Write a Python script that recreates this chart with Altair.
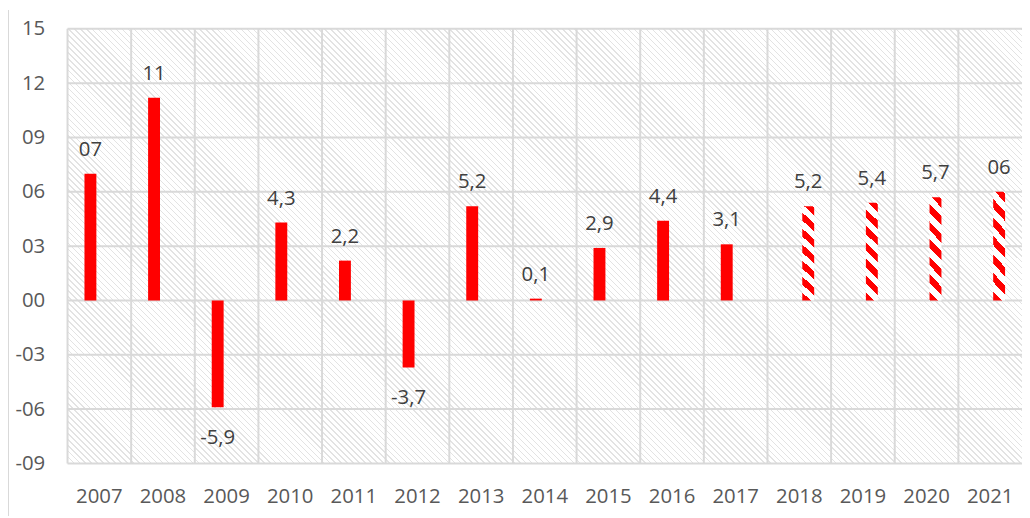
import math
import altair as alt
import pandas as pd

# ---- data ----
years = ["2007", "2008", "2009", "2010", "2011", "2012", "2013", "2014",
         "2015", "2016", "2017", "2018", "2019", "2020", "2021"]
values = [7.0, 11.2, -5.9, 4.3, 2.2, -3.7, 5.2, 0.1, 2.9, 4.4, 3.1, 5.2, 5.4, 5.7, 6.0]
labels = ["07", "11", "-5,9", "4,3", "2,2", "-3,7", "5,2", "0,1", "2,9", "4,4",
          "3,1", "5,2", "5,4", "5,7", "06"]
kinds = ["actual"] * 11 + ["forecast"] * 4
y_ticks = [-9, -6, -3, 0, 3, 6, 9, 12, 15]

df = pd.DataFrame({"year": years, "value": values, "label": labels, "kind": kinds})
tick_df = pd.DataFrame({"value": y_ticks})

W, H = 962, 438
GRID = "#d9d9d9"
RED = "#ff0000"
FONT = "Open Sans"
FS = 20.5


def stripes(p1, p2, periods, frac, c_line, c_bg):
    stops = []
    i = 0
    while True:
        a = i / periods
        if a >= 1:
            break
        b = min((i + frac) / periods, 1.0)
        stops += [
            alt.GradientStop(offset=a, color=c_bg),
            alt.GradientStop(offset=a, color=c_line),
            alt.GradientStop(offset=b, color=c_line),
            alt.GradientStop(offset=b, color=c_bg),
        ]
        i += 1
    stops.append(alt.GradientStop(offset=1.0, color=c_bg))
    return alt.LinearGradient(gradient="linear", stops=stops,
                              x1=p1[0], y1=p1[1], x2=p2[0], y2=p2[1])


def diag_vector(w, h):
    k = (w + h) / (w * w + h * h)
    return (0, 1), (k * w, 1 - k * h)


# background hatch (downward diagonal), ~6px horizontal period
p1, p2 = diag_vector(W, H)
bg_periods = (W + H) / 6
bg_grad = stripes(p1, p2, bg_periods, 0.25, "#e3e3e3", "#ffffff")

# forecast bar stripes (bar ~12 x 100 px), ~17px vertical period
q1, q2 = diag_vector(12, 100)
bar_periods = (12 + 100) / 17
bar_grad = stripes(q1, q2, bar_periods, 0.5, RED, "#ffffff")

x_axis = alt.Axis(title=None, domain=False, ticks=False, grid=False, labelAngle=0,
                  labelPadding=23, labelFont=FONT, labelFontSize=FS,
                  labelColor="#595959")
y_axis = alt.Axis(title=None, domain=False, ticks=False, grid=False, values=y_ticks,
                  labelPadding=23, labelFont=FONT, labelFontSize=FS,
                  labelColor="#595959",
                  labelExpr="(datum.value < 0 ? '-' : '') + (abs(datum.value) < 10 ? '0' : '') + abs(datum.value)")

xs = alt.Scale(paddingInner=0, paddingOuter=0)
ys = alt.Scale(domain=[-9, 15], nice=False, zero=False)

x_enc = alt.X("year:N", sort=years, scale=xs, axis=x_axis, title=None)
y_enc = alt.Y("value:Q", scale=ys, axis=y_axis, title=None)

bg = alt.Chart(alt.Data(values=[{"a": 1}])).mark_rect(color=bg_grad).encode(
    x=alt.value(0), x2=alt.value("width"), y=alt.value(0), y2=alt.value("height"))

hgrid = alt.Chart(tick_df).mark_rule(color=GRID, strokeWidth=2).encode(
    y=y_enc, x=alt.value(0), x2=alt.value("width"))

vgrid = alt.Chart(df).mark_rule(color=GRID, strokeWidth=2).encode(
    x=alt.X("year:N", sort=years, scale=xs, axis=x_axis, title=None, bandPosition=0),
    y=alt.value(0), y2=alt.value("height"))

base = alt.Chart(df)

bars_act = base.transform_filter(alt.datum.kind == "actual").mark_bar(
    color=RED, width=12, xOffset=-9).encode(x=x_enc, y=y_enc)
bars_fc = base.transform_filter(alt.datum.kind == "forecast").mark_bar(
    color=bar_grad, width=12, xOffset=9).encode(x=x_enc, y=y_enc)

tstyle = dict(font=FONT, fontSize=FS, color="#404040", baseline="alphabetic")

t_act_pos = base.transform_filter((alt.datum.kind == "actual") & (alt.datum.value >= 0)).mark_text(
    dx=-9, dy=-18, **tstyle).encode(x=x_enc, y=y_enc, text="label:N")
t_act_neg = base.transform_filter((alt.datum.kind == "actual") & (alt.datum.value < 0)).mark_text(
    dx=-9, dy=37, **tstyle).encode(x=x_enc, y=y_enc, text="label:N")
t_fc = base.transform_filter(alt.datum.kind == "forecast").mark_text(
    dx=9, dy=-18, **tstyle).encode(x=x_enc, y=y_enc, text="label:N")

border = alt.Chart(alt.Data(values=[{"a": 1}])).mark_rule(color=GRID, strokeWidth=1).encode(
    x=alt.value(-59.5), y=alt.value(-19), y2=alt.value(H + 53))

chart = alt.layer(bg, hgrid, vgrid, bars_act, bars_fc, t_act_pos, t_act_neg, t_fc, border).properties(
    width=W, height=H,
    autosize=alt.AutoSizeParams(type="none"),
    padding={"left": 60, "top": 19, "right": 0, "bottom": 53},
).configure_view(stroke=None)

chart.save("out.html", embed_options={"renderer": "svg", "actions": False})
